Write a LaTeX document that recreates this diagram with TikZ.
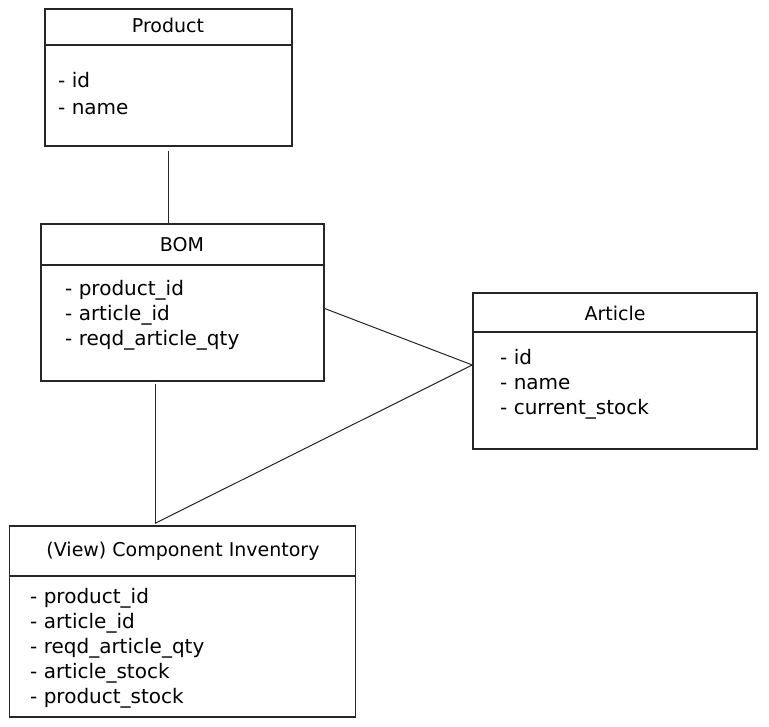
\documentclass[tikz,border=0pt]{standalone}
\usepackage{fontspec}
\setmainfont{DejaVu Sans}
\begin{document}
\begin{tikzpicture}[x=1pt, y=-1pt,
        box/.style={draw=black!85, line width=1.3pt, rectangle, inner sep=0pt},
        head/.style={font=\fontsize{19}{21}\selectfont},
        fields/.style={font=\fontsize{20}{25}\selectfont, align=left, anchor=west, inner sep=0pt},
        link/.style={draw=black!85, line width=1pt}]
        \useasboundingbox (0,0) rectangle (769,727);

        % Table boxes
        \node[box, minimum width=247pt, minimum height=137pt] (product) at (168.5,77.5) {};
        \node[box, minimum width=283pt, minimum height=157pt] (bom) at (182.5,302.5) {};
        \node[box, minimum width=284pt, minimum height=156pt] (article) at (615,371) {};
        \node[box, minimum width=346pt, minimum height=191pt] (inventory) at (182.5,621.5) {};

        % Header lines
        \foreach \tab/\y in {product/45, bom/265, article/332, inventory/576} {
            \draw[line width=1.3pt, black!85] (\tab.west |- 0,\y) -- (\tab.east |- 0,\y);
        }

        % Titles
        \node[head] (product-title) at (168,25) {Product};
        \node[head] (bom-title) at (182,245) {BOM};
        \node[head] (article-title) at (615,313) {Article};
        \node[head] (inventory-title) at (183,551) {(View) Component Inventory};

        % Fields
        \node[fields, font=\fontsize{20}{27}\selectfont] (product-fields) at (58,93.5) {- id\\- name};
        \node[fields] (bom-fields) at (65,315) {- product\_id\\- article\_id\\- reqd\_article\_qty};
        \node[fields] (article-fields) at (500,384) {- id\\- name\\- current\_stock};
        \node[fields] (inventory-fields) at (30,648) {- product\_id\\- article\_id\\- reqd\_article\_qty\\- article\_stock\\- product\_stock};

        % Relations
        \draw[link] ([yshift=-4pt]product.south) -- (product.south |- bom.north);
        \draw[link] ([yshift=-6pt]bom.east) -- ([yshift=6pt]article.west);
        \draw[link] ([xshift=-27.5pt, yshift=-2pt]bom.south) -- ([xshift=-27.5pt, yshift=2pt]inventory.north);
        \draw[link] ([yshift=6pt]article.west) -- ([xshift=-27.5pt, yshift=2pt]inventory.north);
\end{tikzpicture}
\end{document}
